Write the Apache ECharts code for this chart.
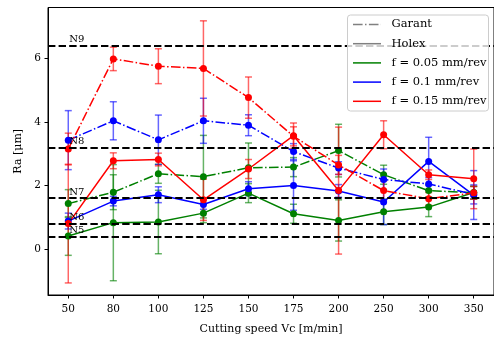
<!DOCTYPE html>
<html><head><meta charset="utf-8">
<script src="https://cdn.jsdelivr.net/npm/echarts@6/dist/echarts.min.js"></script>
<style>html,body{margin:0;padding:0;background:#fff}#c{width:494px;height:340px}</style>
</head><body><div id="c"></div>
<script>
var speeds = ['50','80','100','125','150','175','200','250','300','350'];
// mean Ra values
var garant005 = [1.43,1.79,2.37,2.28,2.56,2.58,3.10,2.34,1.84,1.77];
var holex005  = [0.41,0.83,0.85,1.13,1.76,1.11,0.90,1.17,1.32,1.78];
var garant01  = [3.43,4.04,3.44,4.04,3.90,3.07,2.55,2.19,2.05,1.72];
var holex01   = [0.88,1.51,1.71,1.40,1.90,2.00,1.83,1.48,2.76,1.70];
var garant015 = [3.15,5.99,5.76,5.69,4.77,3.55,2.65,1.84,1.58,1.77];
var holex015  = [0.80,2.78,2.82,1.55,2.52,3.57,1.84,3.60,2.34,2.21];
// error (half range)
var garant005Err = [0.44,0.55,0.30,1.30,0.78,0.30,0.83,0.30,0.20,0.20];
var holex005Err  = [0.61,1.83,1.00,0.30,0.30,0.30,0.65,0.40,0.30,0.20];
var garant01Err  = [0.93,0.60,0.78,0.71,0.33,0.25,0.20,0.33,0.20,0.30];
var holex01Err   = [0.25,0.15,0.25,0.15,0.22,0.78,0.20,0.71,0.76,0.77];
var garant015Err = [0.50,0.37,0.55,1.50,0.65,0.30,0.30,0.30,0.20,0.20];
var holex015Err  = [1.87,0.25,0.20,0.65,0.30,0.40,2.00,0.44,0.15,0.94];
// roughness grades
var gradeNames = ['N5','N6','N7','N8','N9'];
var gradeValues = [0.4,0.8,1.6,3.2,6.4];
var yTicks = [0,2,4,6];
var legendLabels = ['Garant','Holex','f = 0.05 mm/rev','f = 0.1 mm/rev','f = 0.15 mm/rev'];

var GREEN='#008000', BLUE='#0000ff', RED='#ff0000';
var FONT='DejaVu Serif';
var dashdot=[9.6,2.4,1.5,2.4];

function pts(arr){return arr.map(function(v,i){return [i,v];});}
function errData(arr,err){return arr.map(function(v,i){return [i,v-err[i],v+err[i]];});}

function errSeries(arr,err,color){
  return {type:'custom', z:2, silent:true, data:errData(arr,err),
    renderItem:function(params,api){
      var lo=api.coord([api.value(0),api.value(1)]);
      var hi=api.coord([api.value(0),api.value(2)]);
      var st={stroke:color,lineWidth:1.5,opacity:0.6};
      return {type:'group',children:[
        {type:'line',shape:{x1:lo[0],y1:lo[1],x2:hi[0],y2:hi[1]},style:st},
        {type:'line',shape:{x1:lo[0]-3.5,y1:lo[1],x2:lo[0]+3.5,y2:lo[1]},style:st},
        {type:'line',shape:{x1:hi[0]-3.5,y1:hi[1],x2:hi[0]+3.5,y2:hi[1]},style:st}
      ]};
    }};
}
function lineSeries(arr,color,type){
  return {type:'line', z:3, data:pts(arr), symbol:'circle', symbolSize:7,
    itemStyle:{color:color}, lineStyle:{color:color,width:1.5,type:type}, silent:true, animation:false};
}

var series=[];
// grade lines
series.push({type:'line', z:1, data:[], silent:true,
  markLine:{silent:true, symbol:'none', animation:false, label:{show:false},
    lineStyle:{color:'#000',width:2,type:[7.4,3.2]},
    data:gradeValues.map(function(v){return {yAxis:v};})}});
series.push({type:'custom', z:6, silent:true, data:gradeValues.map(function(v,i){return [0,v,i];}),
  renderItem:function(params,api){
    var p=api.coord([api.value(0),api.value(1)]);
    return {type:'text',x:p[0]+1,y:p[1]-1,style:{text:gradeNames[api.value(2)],font:'10px "'+FONT+'"',fill:'#000',textAlign:'left',textVerticalAlign:'bottom'}};
  }});
var groups=[[garant005,garant005Err,holex005,holex005Err,GREEN],[garant01,garant01Err,holex01,holex01Err,BLUE],[garant015,garant015Err,holex015,holex015Err,RED]];
groups.forEach(function(g){
  series.push(errSeries(g[0],g[1],g[4]));
  series.push(lineSeries(g[0],g[4],dashdot));
  series.push(errSeries(g[2],g[3],g[4]));
  series.push(lineSeries(g[2],g[4],'solid'));
});

// legend graphic
var lx=347.5, ly=15, lw=141, lh=96;
var graphics=[{type:'rect',z:100,zlevel:1,shape:{x:lx,y:ly,width:lw,height:lh,r:3},style:{fill:'rgba(255,255,255,0.8)',stroke:'#cccccc',lineWidth:1}}];
var legColors=['#808080','#808080',GREEN,BLUE,RED];
var legTypes=[dashdot,null,null,null,null];
legendLabels.forEach(function(t,i){
  var yy=ly+9.5+i*19.2;
  graphics.push({type:'line',z:101,zlevel:1,shape:{x1:lx+5.5,y1:yy,x2:lx+33.5,y2:yy},style:{stroke:legColors[i],lineWidth:1.5,lineDash:legTypes[i]}});
  graphics.push({type:'text',z:101,zlevel:1,x:lx+44,y:yy,style:{text:t,font:'11.5px "'+FONT+'"',fill:'#000',textVerticalAlign:'middle'}});
});

var chart=echarts.init(document.getElementById('c'),null,{renderer:'canvas'});
chart.setOption({
  animation:false,
  textStyle:{fontFamily:FONT},
  grid:{left:48,top:7.5,width:447,height:289.2,show:true,borderColor:'#000',borderWidth:1,backgroundColor:'transparent'},
  xAxis:{type:'value',min:-0.45,max:9.45,
    name:'Cutting speed Vc [m/min]',nameLocation:'middle',nameGap:29,
    nameTextStyle:{fontFamily:FONT,fontSize:11,color:'#000'},
    axisLine:{show:true,onZero:false,lineStyle:{color:'#000',width:1}},
    axisTick:{show:true,length:3.5,lineStyle:{color:'#000'},customValues:[0,1,2,3,4,5,6,7,8,9]},
    axisLabel:{customValues:[0,1,2,3,4,5,6,7,8,9],formatter:function(v){return speeds[Math.round(v)];},
      fontFamily:FONT,fontSize:10.5,color:'#000',margin:9},
    splitLine:{show:false}},
  yAxis:{type:'value',min:-1.45,max:7.61,
    name:'Ra [μm]',nameLocation:'middle',nameGap:21,nameRotate:90,
    nameTextStyle:{fontFamily:FONT,fontSize:11,color:'#000'},
    axisLine:{show:true,onZero:false,lineStyle:{color:'#000',width:1}},
    axisTick:{show:true,length:3.5,lineStyle:{color:'#000'},customValues:yTicks},
    axisLabel:{customValues:yTicks,fontFamily:FONT,fontSize:10.5,color:'#000',margin:7},
    splitLine:{show:false}},
  series:series,
  graphic:graphics
});
</script></body></html>
